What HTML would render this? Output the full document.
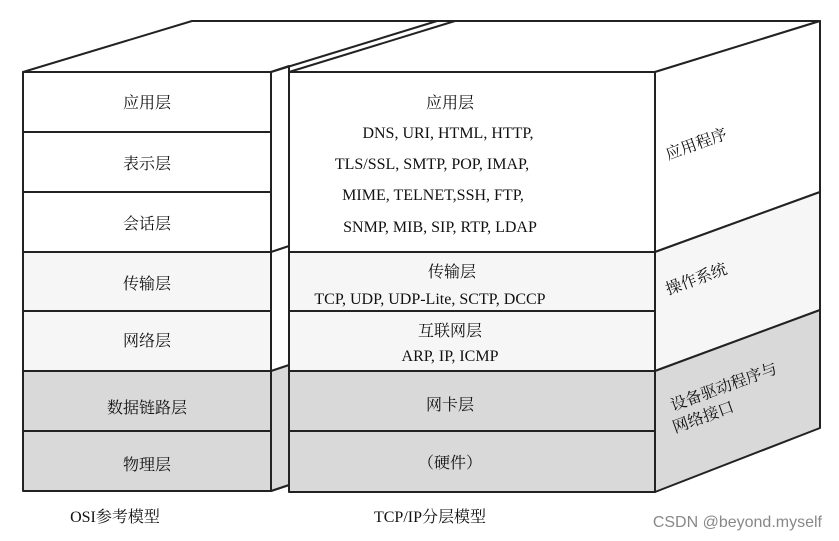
<!DOCTYPE html>
<html><head><meta charset="utf-8"><style>
html,body{margin:0;padding:0;background:#fff;}
svg{display:block;}
text{font-family:"Liberation Serif","Noto Serif CJK SC",serif;fill:#111;}
</style></head><body>
<svg width="839" height="541" viewBox="0 0 839 541" xmlns="http://www.w3.org/2000/svg">
<g stroke="#222" stroke-width="2" stroke-linejoin="round">
<polygon points="23,72 192,21 820,21 655,72" fill="#fff"/>
<rect x="23" y="72" width="248" height="299" fill="#fff"/>
<rect x="23" y="252" width="248" height="119" fill="#f6f6f6"/>
<rect x="23" y="371" width="248" height="120" fill="#d9d9d9"/>
<line x1="23" y1="132" x2="271" y2="132"/>
<line x1="23" y1="192" x2="271" y2="192"/>
<line x1="23" y1="252" x2="271" y2="252"/>
<line x1="23" y1="311" x2="271" y2="311"/>
<line x1="23" y1="431" x2="271" y2="431"/>
<polygon points="271,72 289,66 289,485 271,491" fill="#fff"/>
<polygon points="271,371 289,365 289,485 271,491" fill="#d9d9d9"/>
<line x1="271" y1="252" x2="289" y2="246"/>
<line x1="271" y1="72" x2="437" y2="21"/>
<rect x="289" y="72" width="366" height="299" fill="#fff"/>
<rect x="289" y="252" width="366" height="119" fill="#f6f6f6"/>
<rect x="289" y="371" width="366" height="121" fill="#d9d9d9"/>
<line x1="289" y1="252" x2="655" y2="252"/>
<line x1="289" y1="311" x2="655" y2="311"/>
<line x1="289" y1="431" x2="655" y2="431"/>
<line x1="289" y1="72" x2="455" y2="21"/>
<polygon points="655,72 820,21 820,192 655,252" fill="#fff"/>
<polygon points="655,252 820,192 820,310 655,371" fill="#f6f6f6"/>
<polygon points="655,371 820,310 820,428 655,492" fill="#d9d9d9"/>
</g>
<g font-size="16" text-anchor="middle">
<text x="147" y="108">应用层</text>
<text x="147" y="169">表示层</text>
<text x="147" y="229">会话层</text>
<text x="147" y="289">传输层</text>
<text x="147" y="346">网络层</text>
<text x="147" y="413">数据链路层</text>
<text x="147" y="470">物理层</text>
<text x="450" y="108">应用层</text>
<text x="448" y="138">DNS, URI, HTML, HTTP,</text>
<text x="432" y="169">TLS/SSL, SMTP, POP, IMAP,</text>
<text x="433" y="200">MIME, TELNET,SSH, FTP,</text>
<text x="440" y="232">SNMP, MIB, SIP, RTP, LDAP</text>
<text x="452" y="277">传输层</text>
<text x="430" y="304">TCP, UDP, UDP-Lite, SCTP, DCCP</text>
<text x="450" y="336">互联网层</text>
<text x="450" y="361">ARP, IP, ICMP</text>
<text x="450" y="410">网卡层</text>
<text x="450" y="468">（硬件）</text>
<text x="115" y="522">OSI参考模型</text>
<text x="430" y="522">TCP/IP分层模型</text>
</g>
<g font-size="16">
<text transform="translate(668,160) rotate(-20)">应用程序</text>
<text transform="translate(668,295) rotate(-20)">操作系统</text>
<text transform="translate(673,411) rotate(-20)">设备驱动程序与</text>
<text transform="translate(675,433) rotate(-20)">网络接口</text>
</g>
<text x="822" y="527" text-anchor="end" font-size="16" style="font-family:'Liberation Sans',sans-serif;fill:#888">CSDN @beyond.myself</text>
</svg>
</body></html>
